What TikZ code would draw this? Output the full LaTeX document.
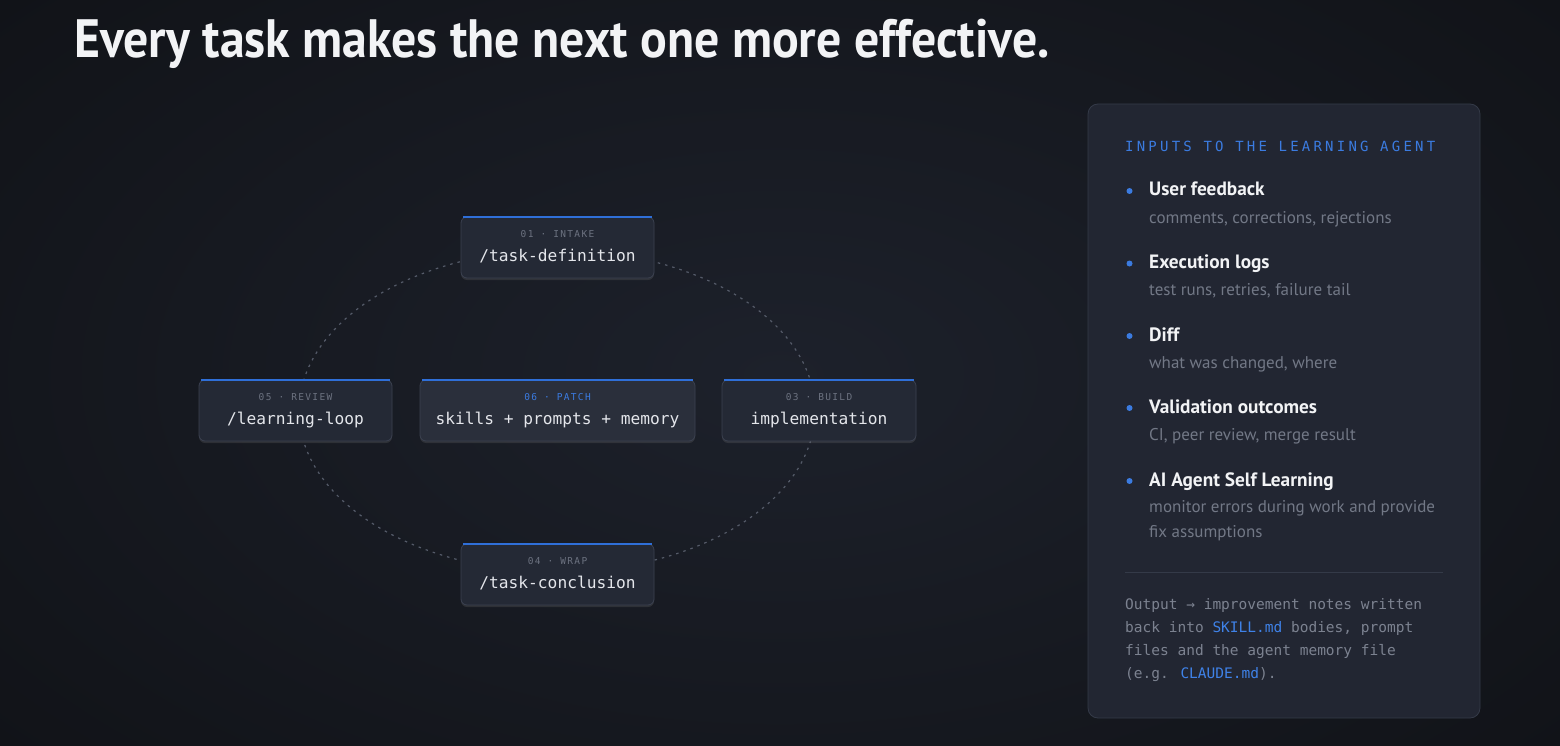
\documentclass[tikz,border=0pt]{standalone}
\usepackage{fontspec}
\usetikzlibrary{shadows}
\setmainfont{PT Sans}
\newfontfamily\titlefont[FakeStretch=0.922]{PT Sans}
\newfontfamily\monofont{DejaVu Sans Mono}
\newfontfamily\monolab[LetterSpace=14]{DejaVu Sans Mono}
\newfontfamily\monohead[LetterSpace=23]{DejaVu Sans Mono}
\definecolor{bgin}{HTML}{1D212B}
\definecolor{bgout}{HTML}{111318}
\definecolor{nodefill}{HTML}{242935}
\definecolor{nodecenter}{HTML}{2A2F3B}
\definecolor{nodeborder}{HTML}{3B4150}
\definecolor{barblue}{HTML}{2F6FD8}
\definecolor{labblue}{HTML}{3B7BE0}
\definecolor{labgrey}{HTML}{6C7280}
\definecolor{maintext}{HTML}{E4E6EB}
\definecolor{panelfill}{HTML}{222632}
\definecolor{panelborder}{HTML}{343A48}
\definecolor{titlewhite}{HTML}{F2F3F5}
\definecolor{subgrey}{HTML}{727886}
\definecolor{outgrey}{HTML}{7C8290}
\definecolor{linkblue}{HTML}{3F82E8}
\definecolor{ringgrey}{HTML}{555B69}
\tikzset{
  stepbox/.style={draw=nodeborder, fill=nodefill, line width=0.8pt, rounded corners=6pt,
    minimum height=61pt, inner sep=0pt,
    drop shadow={opacity=0.22, shadow xshift=0pt, shadow yshift=-2pt}},
  topbar/.style={draw=barblue, line width=2.2pt},
  lab/.style={anchor=base, inner sep=0pt, text=labgrey, font=\monolab\fontsize{9.5}{10}\selectfont},
  mainlab/.style={anchor=base, inner sep=0pt, text=maintext, font=\monofont\fontsize{16.2}{18}\selectfont},
  panelbox/.style={draw=panelborder, fill=panelfill, line width=0.8pt, rounded corners=10pt, inner sep=0pt},
  itemtitle/.style={anchor=base west, inner sep=0pt, text=titlewhite, font=\bfseries\fontsize{19.3}{21}\selectfont},
  itemsub/.style={anchor=base west, inner sep=0pt, text=subgrey, font=\fontsize{17}{19}\selectfont},
  dot/.style={circle, fill=labblue, minimum size=6pt, inner sep=0pt},
  outtext/.style={anchor=base west, inner sep=0pt, text=outgrey, font=\monofont\fontsize{14.5}{16}\selectfont},
  ring/.style={draw=ringgrey, line width=1.2pt, dash pattern=on 2.5pt off 5pt}
}
\begin{document}
\begin{tikzpicture}[x=1pt,y=-1pt]
\useasboundingbox (0,0) rectangle (1560,746);
\shade[inner color=bgin, outer color=bgout] (-250,-200) rectangle (1810,950);

% title
\node[anchor=base west, inner sep=0pt, text=titlewhite, font=\titlefont\bfseries\fontsize{54}{60}\selectfont] (title) at (74,58) {Every task makes the next one more effective.};

% ring
\coordinate (ringc) at (557,411);
\draw[ring] (ringc) ellipse [x radius=258, y radius=161];

% step nodes
\node[stepbox, minimum width=193pt] (intake) at (557.5,247.5) {};
\node[stepbox, minimum width=193pt] (review) at (295.5,410.5) {};
\node[stepbox, minimum width=275pt, fill=nodecenter] (patch) at (557.5,410.5) {};
\node[stepbox, minimum width=194pt] (build) at (819,410.5) {};
\node[stepbox, minimum width=193pt] (wrap) at (557.5,574.5) {};

\foreach \n in {intake,review,patch,build,wrap}{
  \draw[topbar] ([xshift=2.5pt]\n.north west) -- ([xshift=-2.5pt]\n.north east);
}

\node[lab] (intakeL) at ([yshift=-21pt]intake.north) {01 · INTAKE};
\node[mainlab] (intakeM) at ([yshift=-44.5pt]intake.north) {/task-definition};
\node[lab] (reviewL) at ([yshift=-21pt]review.north) {05 · REVIEW};
\node[mainlab] (reviewM) at ([yshift=-44.5pt]review.north) {/learning-loop};
\node[lab, text=labblue] (patchL) at ([yshift=-21pt]patch.north) {06 · PATCH};
\node[mainlab] (patchM) at ([yshift=-44.5pt]patch.north) {skills + prompts + memory};
\node[lab] (buildL) at ([yshift=-21pt]build.north) {03 · BUILD};
\node[mainlab] (buildM) at ([yshift=-44.5pt]build.north) {implementation};
\node[lab] (wrapL) at ([yshift=-21pt]wrap.north) {04 · WRAP};
\node[mainlab] (wrapM) at ([yshift=-44.5pt]wrap.north) {/task-conclusion};

% panel
\node[panelbox, minimum width=392pt, minimum height=614pt] (panel) at (1284,411) {};
\node[anchor=base west, inner sep=0pt, text=labblue, font=\monohead\fontsize{14}{16}\selectfont] (phead) at (1125,152) {INPUTS TO THE LEARNING AGENT};

\node[dot] (d1) at (1129.5,191) {};
\node[itemtitle] (t1) at (1149,196) {User feedback};
\node[itemsub] (s1) at (1149,223) {comments, corrections, rejections};

\node[dot] (d2) at (1129.5,263.5) {};
\node[itemtitle] (t2) at (1149,268.5) {Execution logs};
\node[itemsub] (s2) at (1149,295.5) {test runs, retries, failure tail};

\node[dot] (d3) at (1129.5,336) {};
\node[itemtitle] (t3) at (1149,341) {Diff};
\node[itemsub] (s3) at (1149,368) {what was changed, where};

\node[dot] (d4) at (1129.5,408) {};
\node[itemtitle] (t4) at (1149,413) {Validation outcomes};
\node[itemsub] (s4) at (1149,440.5) {CI, peer review, merge result};

\node[dot] (d5) at (1129.5,481) {};
\node[itemtitle] (t5) at (1149,486) {AI Agent Self Learning};
\node[itemsub] (s5) at (1149,512.5) {monitor errors during work and provide};
\node[itemsub] (s5b) at (1149,537.5) {fix assumptions};

\coordinate (divl) at (1125,572);
\coordinate (divr) at (1443,572);
\draw[draw=panelborder, line width=0.9pt] (divl) -- (divr);

\node[outtext] (o1) at (1125,609) {Output → improvement notes written};
\node[outtext] (o2) at (1125,632) {back into \textcolor{linkblue}{SKILL.md} bodies, prompt};
\node[outtext] (o3) at (1125,655) {files and the agent memory file};
\node[outtext] (o4) at (1125,678) {(e.g. \textcolor{linkblue}{CLAUDE.md}).};
\end{tikzpicture}
\end{document}
